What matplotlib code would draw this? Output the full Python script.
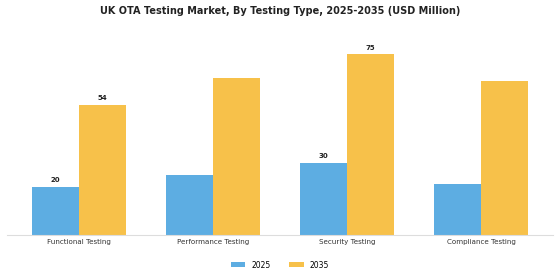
import matplotlib
matplotlib.use("Agg")
import matplotlib.pyplot as plt
import numpy as np

categories = ["Functional Testing", "Performance Testing", "Security Testing", "Compliance Testing"]
values_2025 = [20, 25, 30, 21]
values_2035 = [54, 65, 75, 64]
labeled = [True, False, True, False]
series_labels = ["2025", "2035"]
colors = ["#5DADE2", "#F7C14A"]

fig = plt.figure(figsize=(5.6, 2.8), dpi=100)
ax = fig.add_axes([7/560, 45/280, 546/560, 205/280])

x = np.arange(len(categories))
w = 0.35
b1 = ax.bar(x - w/2, values_2025, w, color=colors[0], label=series_labels[0])
b2 = ax.bar(x + w/2, values_2035, w, color=colors[1], label=series_labels[1])

for i, show in enumerate(labeled):
    if show:
        ax.text(x[i] - w/2, values_2025[i] + 1.5, f"{values_2025[i]}", ha="center", va="bottom",
                fontsize=5, fontweight="bold", color="#222222")
        ax.text(x[i] + w/2, values_2035[i] + 1.5, f"{values_2035[i]}", ha="center", va="bottom",
                fontsize=5, fontweight="bold", color="#222222")

ax.set_ylim(0, 85)
ax.set_xticks(x)
ax.set_xticklabels(categories, fontsize=5.1, color="#333333")
ax.tick_params(axis="x", length=0, pad=3)
ax.set_yticks([])
for s in ["top", "right", "left"]:
    ax.spines[s].set_visible(False)
ax.spines["bottom"].set_color("#dddddd")
ax.spines["bottom"].set_linewidth(0.8)

fig.text(0.5, 1 - 11/280, "UK OTA Testing Market, By Testing Type, 2025-2035 (USD Million)",
         ha="center", va="center", fontsize=7, fontweight="bold", color="#222222")

fig.legend(handles=[b1, b2], labels=series_labels, loc="center", bbox_to_anchor=(0.5, 1 - 265/280),
           ncol=2, frameon=False, fontsize=5.5, handlelength=1.9, handleheight=0.6,
           handletextpad=0.8, columnspacing=2.4)

fig.savefig("out.png", dpi=100, facecolor="white")
